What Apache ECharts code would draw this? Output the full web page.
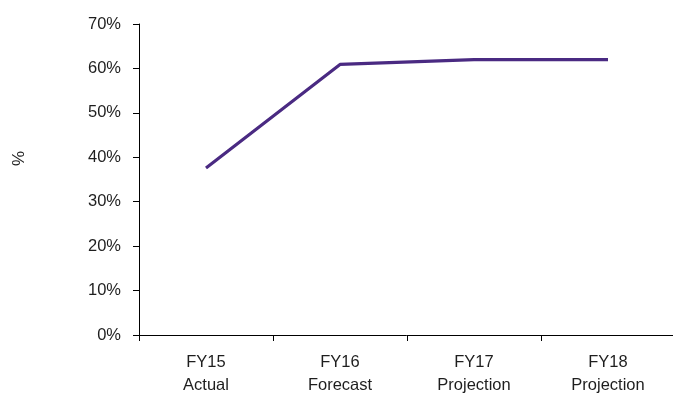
<!DOCTYPE html>
<html>
<head>
<meta charset="utf-8">
<script src="https://cdn.jsdelivr.net/npm/echarts@6/dist/echarts.min.js"></script>
<style>
  html, body { margin: 0; padding: 0; background: #ffffff; }
  #chart { width: 673px; height: 395px; }
</style>
</head>
<body>
<div id="chart"></div>
<script>
// Fiscal years and their status labels
const years = ['FY15', 'FY16', 'FY17', 'FY18'];
const phases = ['Actual', 'Forecast', 'Projection', 'Projection'];
// Share (%) per year
const shareValues = [37.6, 60.9, 62.0, 62.0];
// Y axis scale (%)
const yMin = 0;
const yMax = 70;
const yStep = 10;

const categories = years.map((y, i) => y + '\n' + phases[i]);

const font = '"Liberation Sans", Arial, sans-serif';
const chart = echarts.init(document.getElementById('chart'), null, { renderer: 'canvas' });

chart.setOption({
  animation: false,
  backgroundColor: '#ffffff',
  grid: { left: 139, right: -2, top: 24, bottom: 60, containLabel: false, outerBoundsMode: 'none' },
  xAxis: {
    type: 'category',
    data: categories,
    boundaryGap: true,
    axisLine: { show: true, lineStyle: { color: '#000000', width: 1 } },
    axisTick: { show: true, inside: false, length: 6, alignWithLabel: false, lineStyle: { color: '#000000' } },
    axisLabel: {
      margin: 16,
      color: '#1e1e1e',
      fontFamily: font,
      fontSize: 16.5,
      lineHeight: 23,
      interval: 0
    },
    splitLine: { show: false }
  },
  yAxis: {
    type: 'value',
    min: yMin,
    max: yMax,
    interval: yStep,
    name: '%',
    nameLocation: 'middle',
    nameRotate: 90,
    nameGap: 111,
    nameTextStyle: { color: '#1e1e1e', fontFamily: font, fontSize: 17, padding: [0, 0, 0, 42] },
    axisLine: { show: true, lineStyle: { color: '#000000', width: 1 } },
    axisTick: { show: true, inside: false, length: 6, lineStyle: { color: '#000000' } },
    axisLabel: {
      margin: 18,
      color: '#1e1e1e',
      fontFamily: font,
      fontSize: 16.5,
      formatter: v => v + '%'
    },
    splitLine: { show: false }
  },
  series: [{
    type: 'line',
    data: shareValues,
    symbol: 'none',
    lineStyle: { color: '#4a2a82', width: 3.2 },
    itemStyle: { color: '#4a2a82' }
  }]
});
</script>
</body>
</html>
